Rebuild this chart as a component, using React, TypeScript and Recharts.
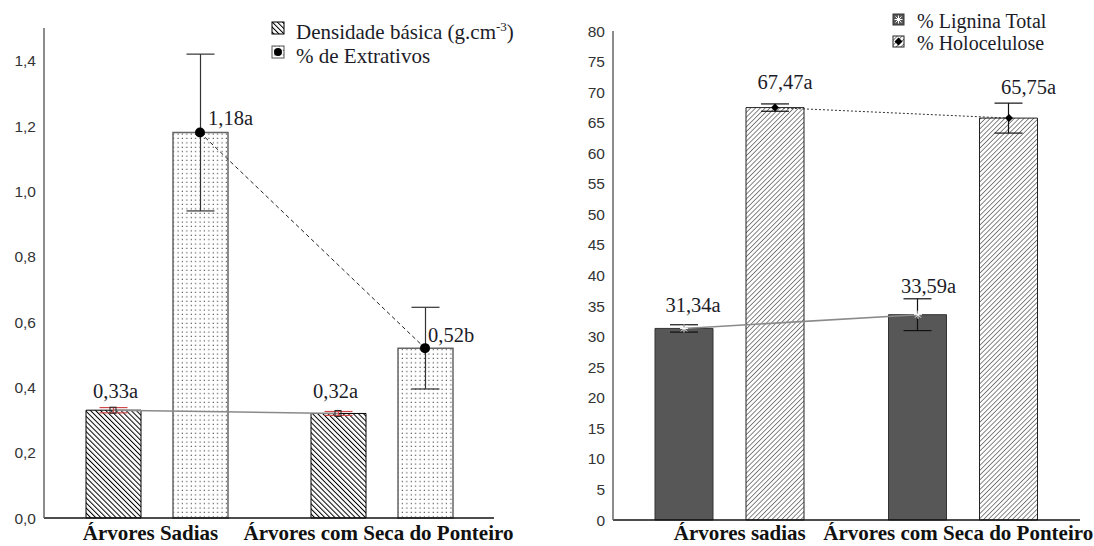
import React from "react";
import { ComposedChart, Bar, Line, XAxis, YAxis, ErrorBar, LabelList } from "recharts";

// left panel
const groupsLeft = ["Árvores Sadias", "Árvores com Seca do Ponteiro"];
const densidade = [0.33, 0.32];
const densidadeErr = [0.008, 0.006];
const densidadeLabels = ["0,33a", "0,32a"];
const extrativos = [1.18, 0.52];
const extrativosErr = [0.24, 0.125];
const extrativosLabels = ["1,18a", "0,52b"];
const leftTicks = [0, 0.2, 0.4, 0.6, 0.8, 1.0, 1.2, 1.4];

// right panel
const groupsRight = ["Árvores sadias", "Árvores com Seca do Ponteiro"];
const lignina = [31.34, 33.59];
const ligninaErr = [0.6, 2.6];
const ligninaLabels = ["31,34a", "33,59a"];
const holocelulose = [67.47, 65.75];
const holoceluloseErr = [0.6, 2.45];
const holocelulosaLabels = ["67,47a", "65,75a"];
const rightTicks = [0, 5, 10, 15, 20, 25, 30, 35, 40, 45, 50, 55, 60, 65, 70, 75, 80];

const leftData = groupsLeft.map((name, i) => ({
  name,
  dens: densidade[i],
  densErr: densidadeErr[i],
  densLabel: densidadeLabels[i],
  ext: extrativos[i],
  extErr: extrativosErr[i],
  extLabel: extrativosLabels[i],
}));

const rightData = groupsRight.map((name, i) => ({
  name,
  lig: lignina[i],
  ligErr: ligninaErr[i],
  ligLabel: ligninaLabels[i],
  holo: holocelulose[i],
  holoErr: holoceluloseErr[i],
  holoLabel: holocelulosaLabels[i],
}));

const SERIF = "'Liberation Serif', 'Times New Roman', serif";
const SANS = "'Liberation Sans', Arial, sans-serif";
const TXT = "#1c1c28";

// label shifts (dx, dy) per point
const densShift = [[2, -12], [-3, -15]];
const extShift = [[8, -8], [3, -6]];
const ligShift = [[9, -16], [11, -22]];
const holoShift = [[10, -19], [20, -24]];

const barLabel = (shift: number[][]) => (p: any) => {
  const i = p.index ?? 0;
  const cx = p.x + p.width / 2 + shift[i][0];
  return (
    <text x={cx} y={p.y + shift[i][1]} textAnchor="middle" style={{ fontFamily: SERIF, fontSize: 20.5 }} fill={TXT}>
      {p.value}
    </text>
  );
};

const pointLabel = (shift: number[][]) => (p: any) => {
  const i = p.index ?? 0;
  return (
    <text x={p.x + shift[i][0]} y={p.y + shift[i][1]} textAnchor="start" style={{ fontFamily: SERIF, fontSize: 20.5 }} fill={TXT}>
      {p.value}
    </text>
  );
};

const catTick = (shift: number[], dy: number) => (p: any) => (
  <text
    x={p.x + shift[p.index ?? 0]}
    y={p.y + dy}
    textAnchor="middle"
    style={{ fontFamily: SERIF, fontWeight: 700, fontSize: 21 }}
    fill="#111"
  >
    {p.payload.value}
  </text>
);

const blackDot = (p: any) => <circle key={`bd${p.index}`} cx={p.cx} cy={p.cy} r={5} fill="#000" />;
const smallDot = (p: any) => (
  <path key={`sd${p.index}`} d={`M${p.cx - 4},${p.cy} L${p.cx},${p.cy - 4} L${p.cx + 4},${p.cy} L${p.cx},${p.cy + 4} Z`} fill="#000" />
);
const boxDot = (p: any) => (
  <rect key={`bx${p.index}`} x={p.cx - 3} y={p.cy - 3} width={6} height={6} fill="none" stroke="#222" strokeWidth={1} />
);
const starDot = (p: any) => (
  <g key={`st${p.index}`} stroke="#fff" strokeWidth={1}>
    <line x1={p.cx - 4} y1={p.cy} x2={p.cx + 4} y2={p.cy} />
    <line x1={p.cx} y1={p.cy - 4} x2={p.cx} y2={p.cy + 4} />
    <line x1={p.cx - 3} y1={p.cy - 3} x2={p.cx + 3} y2={p.cy + 3} />
    <line x1={p.cx - 3} y1={p.cy + 3} x2={p.cx + 3} y2={p.cy - 3} />
  </g>
);

function Patterns() {
  return (
    <svg width={0} height={0} style={{ position: "absolute" }}>
      <defs>
        <pattern id="hatchDens" patternUnits="userSpaceOnUse" width={3.6} height={3.6} patternTransform="rotate(-45)">
          <rect width={3.6} height={3.6} fill="#fff" />
          <line x1={0} y1={0} x2={0} y2={3.6} stroke="#000" strokeWidth={2} />
        </pattern>
        <pattern id="dots" patternUnits="userSpaceOnUse" width={4.4} height={4.4}>
          <rect width={4.4} height={4.4} fill="#fff" />
          <rect x={1.5} y={1.5} width={1.1} height={1.1} fill="#333" />
        </pattern>
        <pattern id="hatchHolo" patternUnits="userSpaceOnUse" width={3.4} height={3.4} patternTransform="rotate(45)">
          <rect width={3.4} height={3.4} fill="#fff" />
          <line x1={0} y1={0} x2={0} y2={3.4} stroke="#222" strokeWidth={1.1} />
        </pattern>
      </defs>
    </svg>
  );
}

const legendText = { fontFamily: SERIF, fontSize: 21 };
const legendTextR = { fontFamily: SERIF, fontSize: 20 };

function Legends() {
  return (
    <svg width={1094} height={70} style={{ position: "absolute", left: 0, top: 0, pointerEvents: "none" }}>
      <rect x={272} y={22} width={12} height={12} fill="url(#hatchDens)" stroke="#000" />
      <text x={296} y={39} style={legendText} fill={TXT}>
        Densidade básica (g.cm<tspan dy={-8} style={{ fontSize: 13 }}>-3</tspan>
        <tspan dy={8}>)</tspan>
      </text>
      <rect x={272} y={46} width={12} height={12} fill="url(#dots)" stroke="#555" />
      <circle cx={278} cy={52} r={4} fill="#000" />
      <text x={296} y={63} style={legendText} fill={TXT}>
        % de Extrativos
      </text>

      <rect x={893} y={14} width={11} height={11} fill="#575757" stroke="#333" />
      {starDot({ cx: 898.5, cy: 19.5, index: "lg" })}
      <text x={917} y={28} style={legendTextR} fill={TXT}>
        % Lignina Total
      </text>
      <rect x={893} y={36} width={11} height={11} fill="url(#hatchHolo)" stroke="#222" />
      {smallDot({ cx: 898.5, cy: 41.5, index: "lh" })}
      <text x={917} y={50} style={legendTextR} fill={TXT}>
        % Holocelulose
      </text>
    </svg>
  );
}

function LeftChart() {
  return (
    <ComposedChart
      width={540}
      height={546}
      data={leftData}
      margin={{ top: 28, right: 46, bottom: 0, left: 0 }}
      barGap={32}
      barCategoryGap={41.5}
      style={{ position: "absolute", left: 0, top: 0 }}
    >
      <XAxis
        dataKey="name"
        height={28}
        tickSize={0}
        tickMargin={0}
        tickLine={false}
        axisLine={{ stroke: "#111", strokeWidth: 1.3 }}
        tick={catTick([-6, -3], 22)}
        interval={0}
      />
      <XAxis xAxisId="dl" dataKey="name" scale="point" hide padding={{ left: 69, right: 156 }} />
      <XAxis xAxisId="el" dataKey="name" scale="point" hide padding={{ left: 156, right: 69 }} />
      <YAxis
        width={44}
        domain={[0, 1.5]}
        ticks={leftTicks}
        tickFormatter={(v: number) => v.toFixed(1).replace(".", ",")}
        tickLine={false}
        axisLine={{ stroke: "#666", strokeWidth: 1.5 }}
        tick={{ fontFamily: SANS, fontSize: 15.5, fill: "#333" }}
      />
      <Line
        xAxisId="dl"
        dataKey="dens"
        stroke="#8a8a8a"
        strokeWidth={1.6}
        dot={boxDot}
        activeDot={false}
        isAnimationActive={false}
      />
      <Bar dataKey="dens" fill="url(#hatchDens)" stroke="#000" strokeWidth={1} barSize={55} isAnimationActive={false}>
        <ErrorBar dataKey="densErr" width={14} stroke="#d04848" strokeWidth={1.2} />
        <LabelList dataKey="densLabel" content={barLabel(densShift)} />
      </Bar>
      <Bar dataKey="ext" fill="url(#dots)" stroke="#666" strokeWidth={1.5} barSize={55} isAnimationActive={false}>
        <ErrorBar dataKey="extErr" width={14} stroke="#333" strokeWidth={1.2} />
      </Bar>
      <Line
        xAxisId="el"
        dataKey="ext"
        stroke="#222"
        strokeWidth={1}
        strokeDasharray="4 3"
        dot={blackDot}
        activeDot={false}
        isAnimationActive={false}
      >
        <LabelList dataKey="extLabel" content={pointLabel(extShift)} />
      </Line>
    </ComposedChart>
  );
}

function RightChart() {
  return (
    <ComposedChart
      width={534}
      height={546}
      data={rightData}
      margin={{ top: 31, right: 14, bottom: 0, left: 0 }}
      barGap={33}
      barCategoryGap={42.25}
      style={{ position: "absolute", left: 560, top: 0 }}
    >
      <XAxis
        dataKey="name"
        height={26}
        tickSize={0}
        tickMargin={0}
        tickLine={false}
        axisLine={{ stroke: "#111", strokeWidth: 1.3 }}
        tick={catTick([10, -5], 20)}
        interval={0}
      />
      <XAxis xAxisId="ll" dataKey="name" scale="point" hide padding={{ left: 71, right: 162 }} />
      <XAxis xAxisId="hl" dataKey="name" scale="point" hide padding={{ left: 162, right: 71 }} />
      <YAxis
        width={53}
        domain={[0, 80]}
        ticks={rightTicks}
        tickLine={false}
        axisLine={{ stroke: "#666", strokeWidth: 1.5 }}
        tick={{ fontFamily: SANS, fontSize: 15.5, fill: "#333" }}
      />
      <Line
        xAxisId="ll"
        dataKey="lig"
        stroke="#8a8a8a"
        strokeWidth={1.6}
        dot={false}
        activeDot={false}
        isAnimationActive={false}
      />
      <Bar dataKey="lig" fill="#575757" stroke="#333" strokeWidth={1} barSize={58} isAnimationActive={false}>
        <ErrorBar dataKey="ligErr" width={14} stroke="#111" strokeWidth={1.2} />
        <LabelList dataKey="ligLabel" content={barLabel(ligShift)} />
      </Bar>
      <Bar dataKey="holo" fill="url(#hatchHolo)" stroke="#222" strokeWidth={1} barSize={58} isAnimationActive={false}>
        <ErrorBar dataKey="holoErr" width={14} stroke="#111" strokeWidth={1.2} />
        <LabelList dataKey="holoLabel" content={barLabel(holoShift)} />
      </Bar>
      <Line
        xAxisId="ll"
        dataKey="lig"
        stroke="none"
        dot={starDot}
        activeDot={false}
        isAnimationActive={false}
      />
      <Line
        xAxisId="hl"
        dataKey="holo"
        stroke="#333"
        strokeWidth={1}
        strokeDasharray="2 2"
        dot={smallDot}
        activeDot={false}
        isAnimationActive={false}
      />
    </ComposedChart>
  );
}

export default function App() {
  return (
    <div style={{ position: "absolute", left: 0, top: 0, width: 1094, height: 546, background: "#fff" }}>
      <Patterns />
      <LeftChart />
      <RightChart />
      <Legends />
    </div>
  );
}
